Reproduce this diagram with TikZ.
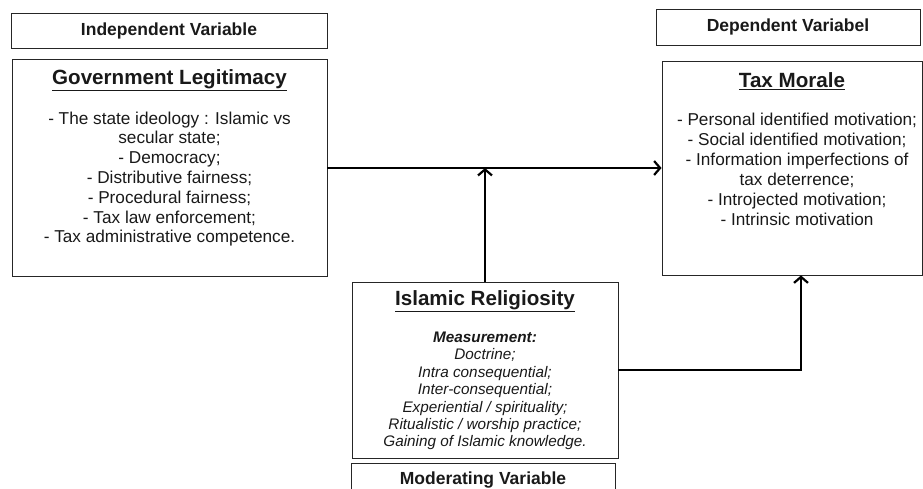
\documentclass[tikz,border=0pt]{standalone}
\usepackage{fontspec}
\setmainfont{Liberation Sans}
\usetikzlibrary{arrows.meta}
\begin{document}
\begin{tikzpicture}[x=1pt,y=1pt,
  box/.style={draw=black!85,line width=0.9pt,rectangle,inner sep=0pt},
  lbl/.style={font=\bfseries\fontsize{17.5}{20}\selectfont,text=black!90},
  ttl/.style={font=\bfseries\fontsize{20.6}{23}\selectfont,text=black!90},
  body/.style={align=center,inner sep=0pt,text=black!90},
  ital/.style={align=center,inner sep=0pt,font=\itshape\fontsize{15.3}{17.4}\selectfont,text=black!90},
  arr/.style={line width=2.6pt,-{Straight Barb[length=6pt,width=14pt,line width=2.2pt]}}]
\useasboundingbox (0,0) rectangle (923,488);
% header boxes
\node[box,minimum width=316,minimum height=35] (iv) at (169,457.5) {};
\node[lbl] (ivt) at (iv.center) {Independent Variable};
\node[box,minimum width=264,minimum height=36] (dv) at (788,461) {};
\node[lbl] (dvt) at (dv.center) {Dependent Variabel};
% government legitimacy
\node[box,minimum width=315,minimum height=217] (gov) at (169.5,320) {};
\node[ttl] (govt) at (169.5,408) {\underline{Government Legitimacy}};
\node[body,anchor=north,font=\fontsize{17.2}{19.8}\selectfont] (govb) at (169.5,376.5) {- The state ideology : Islamic vs\\secular state;\\- Democracy;\\- Distributive fairness;\\- Procedural fairness;\\- Tax law enforcement;\\- Tax administrative competence.};
% tax morale
\node[box,minimum width=260,minimum height=214] (tax) at (792,320) {};
\node[ttl] (taxt) at (792,406.5) {\underline{Tax Morale}};
\node[body,anchor=north,font=\fontsize{17.2}{20.1}\selectfont] (taxb) at (797,375.5) {- Personal identified motivation;\\- Social identified motivation;\\- Information imperfections of\\tax deterrence;\\- Introjected motivation;\\- Intrinsic motivation};
% islamic religiosity
\node[box,minimum width=266,minimum height=176] (ir) at (485,118) {};
\node[ttl] (irt) at (485,187) {\underline{Islamic Religiosity}};
\node[ital,anchor=north] (irb) at (485,156.2) {\textbf{Measurement:}\\Doctrine;\\Intra consequential;\\Inter-consequential;\\Experiential / spirituality;\\Ritualistic / worship practice;\\Gaining of Islamic knowledge.};
% moderating
\node[box,minimum width=264,minimum height=40,anchor=north] (mv) at (483,25) {};
\node[lbl] (mvt) at (483,8) {Moderating Variable};
% connectors
\draw[arr] (gov.east) -- (tax.west);
\draw[arr] (ir.north) -- (ir.north |- gov.east);
\draw[arr] (ir.east) -| ([xshift=9pt]tax.south);
\end{tikzpicture}
\end{document}
